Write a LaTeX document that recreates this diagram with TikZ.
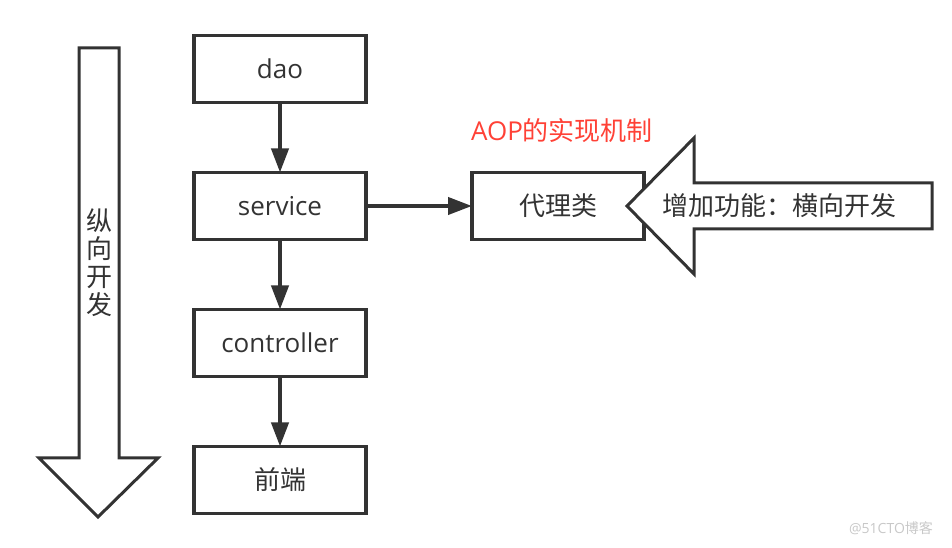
\documentclass[tikz,border=0pt]{standalone}
\usepackage{fontspec}
\setmainfont{Open Sans}
\newfontfamily\cjk{Noto Sans CJK SC}
\usepackage{tikz}
\usetikzlibrary{positioning,arrows.meta}
\definecolor{ink}{HTML}{333333}
\definecolor{aopred}{HTML}{FF4136}
\definecolor{wmark}{HTML}{C8C8C8}
\tikzstyle{layer}    = [rectangle, draw=ink, line width=3.5pt, minimum width=172pt,
                        minimum height=67pt, outer sep=0pt, text=ink,
                        font=\fontsize{26}{30}\selectfont]
\tikzstyle{flow}     = [draw=ink, line width=4pt, -{Triangle[length=24pt,width=17pt]}]
\tikzstyle{bigarrow} = [draw=ink, line width=3pt, line join=miter, fill=white]

\begin{document}
\begin{tikzpicture}[x=1pt, y=1pt, node distance=70pt,
		label/.style={text=ink, font=\fontsize{26}{28}\selectfont\cjk, inner sep=0pt}]
	\useasboundingbox (0,0) rectangle (952,548);
	% layers, top to bottom
	\node[layer] (dao) at (280,479) {dao};
	\node[layer, below=of dao] (service) {service};
	\node[layer, below=of service] (controller) {controller};
	\node[layer, below=of controller] (front) {\cjk 前端};
	\node[layer, right=106pt of service] (proxy) {\cjk 代理类};
	\node[text=aopred, font=\fontsize{26}{30}\selectfont, inner sep=0pt] (aop) at (562,417)
		{AOP\cjk 的实现机制};
	\draw[flow] (dao) -- (service);
	\draw[flow] (service) -- (controller);
	\draw[flow] (controller) -- (front);
	\draw[flow] (service) -- (proxy);
	% vertical development
	\draw[bigarrow] (79,500) -- (119,500) -- (119,90) -- (158,90) -- (98,31)
		-- (39,90) -- (79,90) -- cycle;
	\node[label, align=center] (vert) at (99,285) {纵\\向\\开\\发};
	% horizontal enhancement
	\draw[bigarrow] (627,342) -- (694,410) -- (694,365) -- (932,365) -- (932,319)
		-- (694,319) -- (694,274) -- cycle;
	\node[label] (horiz) at (779,342) {增加功能：横向开发};
	\node[text=wmark, font=\fontsize{14}{16}\selectfont, inner sep=0pt] (mark) at (891,20)
		{@51CTO\cjk 博客};
\end{tikzpicture}
\end{document}
